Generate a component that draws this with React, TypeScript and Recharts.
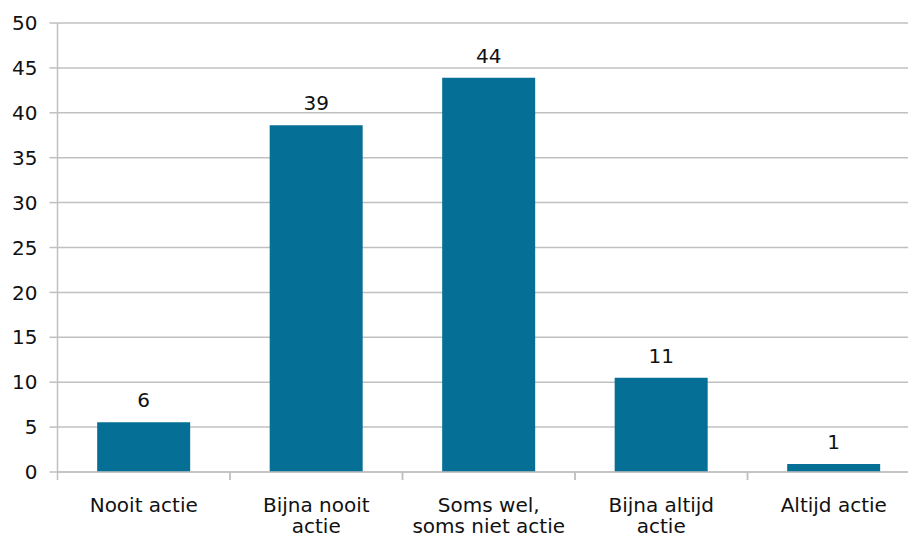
import React from 'react'
import { BarChart, Bar, XAxis, YAxis, CartesianGrid, LabelList } from 'recharts'

const categories = ['Nooit actie', 'Bijna nooit\nactie', 'Soms wel,\nsoms niet actie', 'Bijna altijd\nactie', 'Altijd actie']
const values = [5.55, 38.6, 43.9, 10.5, 0.9]
const valueLabels = ['6', '39', '44', '11', '1']
const yTicks = [0, 5, 10, 15, 20, 25, 30, 35, 40, 45, 50]

const FONT = '"DejaVu Sans", Verdana, sans-serif'
const GRID = '#c0c0c0'
const BAR = '#066f95'

const CHART_W = 920
const AXIS_W = 57.5
const BAND = (CHART_W - AXIS_W) / categories.length

const data = categories.map((c, i) => ({ name: c, value: values[i], label: valueLabels[i] }))

function CategoryTick(props: any) {
  const { x, y, payload } = props
  const lines = String(payload.value).split('\n')
  const left = x - BAND / 2
  return (
    <g>
      <line x1={left} x2={left} y1={y} y2={y + 8} stroke={GRID} strokeWidth={1.5} />
      <line x1={left + BAND} x2={left + BAND} y1={y} y2={y + 8} stroke={GRID} strokeWidth={1.5} />
      {lines.map((l, i) => (
        <text
          key={i}
          x={x}
          y={y + 40 + i * 21}
          textAnchor="middle"
          fontSize={20}
          fontFamily={FONT}
          fill="#111"
        >
          {l}
        </text>
      ))}
    </g>
  )
}

export default function App() {
  return (
    <div
      style={{
        position: 'absolute',
        left: 0,
        top: 0,
        width: 908,
        height: 538,
        overflow: 'hidden',
        background: '#fff',
      }}
    >
      <BarChart
        width={CHART_W}
        height={538}
        data={data}
        margin={{ top: 23, right: 0, left: 0, bottom: 0 }}
        barCategoryGap="23%"
      >
        <CartesianGrid vertical={false} stroke={GRID} strokeWidth={1.5} />
        <XAxis
          dataKey="name"
          height={66}
          axisLine={{ stroke: GRID, strokeWidth: 1.5 }}
          tickLine={false}
          tickSize={0}
          tickMargin={0}
          interval={0}
          tick={<CategoryTick />}
        />
        <YAxis
          domain={[0, 50]}
          ticks={yTicks}
          width={AXIS_W}
          interval={0}
          axisLine={{ stroke: GRID, strokeWidth: 1.5 }}
          tickLine={{ stroke: GRID, strokeWidth: 1.5 }}
          tickSize={8}
          tickMargin={12}
          tick={{ fontSize: 20, fontFamily: FONT, fill: '#111' }}
        />
        <Bar dataKey="value" fill={BAR} isAnimationActive={false}>
          <LabelList
            dataKey="label"
            position="top"
            offset={15}
            style={{ fontSize: 20, fontFamily: FONT, fill: '#111' }}
          />
        </Bar>
      </BarChart>
    </div>
  )
}
